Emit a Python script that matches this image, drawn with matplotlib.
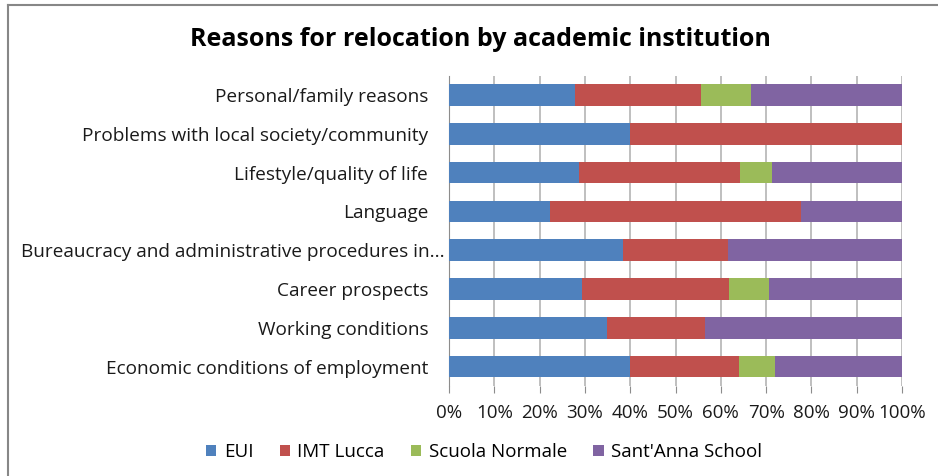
import matplotlib
matplotlib.use("Agg")
import matplotlib.pyplot as plt
import matplotlib.transforms as mtransforms
import numpy as np
from matplotlib.lines import Line2D
from matplotlib.ticker import PercentFormatter

plt.rcParams['font.family'] = ['Open Sans', 'DejaVu Sans']

# reasons, top to bottom as in the chart
reasons = [
    "Personal/family reasons",
    "Problems with local society/community",
    "Lifestyle/quality of life",
    "Language",
    "Bureaucracy and administrative procedures in...",
    "Career prospects",
    "Working conditions",
    "Economic conditions of employment",
]

# shares in % per institution
eui = [27.8, 40.0, 28.6, 22.2, 38.5, 29.4, 34.8, 40.0]
imt = [27.8, 60.0, 35.7, 55.6, 23.1, 32.4, 21.7, 24.0]
sns_ = [11.1, 0.0, 7.1, 0.0, 0.0, 8.8, 0.0, 8.0]
santanna = [33.3, 0.0, 28.6, 22.2, 38.5, 29.4, 43.5, 28.0]

series = ["EUI", "IMT Lucca", "Scuola Normale", "Sant'Anna School"]
colors = ["#4F81BD", "#C0504D", "#9BBB59", "#8064A2"]

fig = plt.figure(figsize=(9.38, 4.76), dpi=100)
ax = fig.add_axes([449 / 938, 1 - 386 / 476, 453 / 938, 310.4 / 476])

y = np.arange(len(reasons))
left = np.zeros(len(reasons))
for name, vals, c in zip(series, [eui, imt, sns_, santanna], colors):
    vals = np.array(vals)
    ax.barh(y, vals, left=left, height=0.56, color=c, label=name, zorder=3)
    left += vals

ax.set_xlim(0, 100)
ax.set_ylim(len(reasons) - 0.5, -0.5)
ax.set_xticks(np.arange(0, 101, 10))
ax.xaxis.set_major_formatter(PercentFormatter(decimals=0))
ax.set_yticks(y)
ax.set_yticklabels(reasons)

ax.grid(axis="x", color="#b4b4b4", linewidth=1.2, zorder=0)
for s in ["top", "right", "bottom"]:
    ax.spines[s].set_visible(False)
ax.spines["left"].set_color("#8c8c8c")
ax.tick_params(axis="y", length=0, pad=15, labelsize=13.7, labelcolor="#1a1a1a")
ax.tick_params(axis="x", length=5, color="#8c8c8c", pad=8, labelsize=13.5,
               labelcolor="#1a1a1a")

# the truncated long label sits closer to the axis
lab = ax.get_yticklabels()[4]
lab.set_transform(lab.get_transform() +
                  mtransforms.ScaledTranslation(0.16, 0, fig.dpi_scale_trans))

fig.text(480 / 938, 1 - 40 / 476, "Reasons for relocation by academic institution",
         ha="center", va="center", fontsize=18, fontweight="bold")

fig.legend(loc="center", bbox_to_anchor=(484 / 938, 1 - 452 / 476), ncol=4,
           frameon=False, fontsize=13.5, handlelength=0.55, handleheight=0.55,
           handletextpad=0.4, columnspacing=1.4)

# outer chart border (only top and left visible in the crop)
fig.add_artist(Line2D([7.5 / 938, 7.5 / 938], [0, 1 - 4.5 / 476],
                      transform=fig.transFigure, color="#878787", linewidth=1.5))
fig.add_artist(Line2D([7.5 / 938, 1], [1 - 4.5 / 476, 1 - 4.5 / 476],
                      transform=fig.transFigure, color="#878787", linewidth=1.5))

fig.savefig("out.png", dpi=100)
